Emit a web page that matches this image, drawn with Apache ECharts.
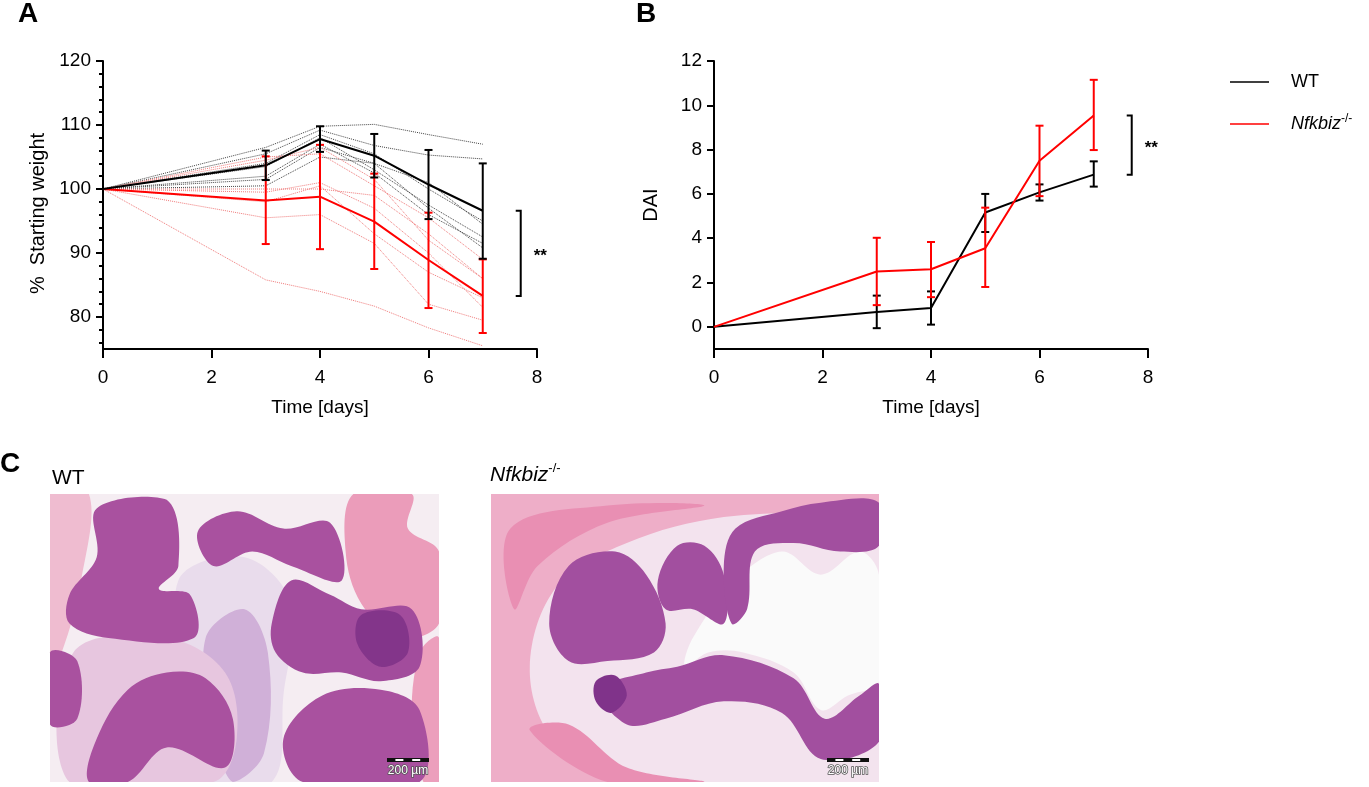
<!DOCTYPE html>
<html>
<head>
<meta charset="utf-8">
<script src="https://cdn.jsdelivr.net/npm/echarts@6/dist/echarts.min.js"></script>
<style>
  html, body { margin: 0; padding: 0; background: #fff; }
  #main { width: 1369px; height: 787px; }
</style>
</head>
<body>
<div id="main"></div>
<script>
// ---- data ----
var days = [0, 3, 4, 5, 6, 7];

// panel A: % starting weight, group means with error limits
var wtWeight   = [100, 103.7, 107.8, 105.2, 100.7, 96.6];
var wtWeightLo = [null, 101.4, 105.8, 101.8, 95.3, 89.1];
var wtWeightHi = [null, 106.0, 109.8, 108.6, 106.1, 104.0];
var koWeight   = [100, 98.2, 98.8, 94.9, 88.9, 83.3];
var koWeightLo = [null, 91.4, 90.6, 87.5, 81.4, 77.5];
var koWeightHi = [null, 105.1, 106.9, 102.4, 96.3, 89.0];

// panel A: single animals (dotted)
var wtMice = [
    [100, 106.5, 109.8, 110.1, 108.5, 107.0],
    [100, 105.5, 109.2, 106.8, 105.3, 104.7],
    [100, 104.0, 108.5, 105.5, 100.0, 95.0],
    [100, 103.5, 108.0, 103.0, 97.5, 92.5],
    [100, 102.0, 107.0, 102.5, 96.0, 91.5],
    [100, 101.5, 106.5, 104.0, 97.0, 90.8],
    [100, 100.5, 105.0, 104.0, 101.0, 94.5]
];
var koMice = [
    [100, 85.8, 84.0, 81.7, 78.3, 75.5],
    [100, 95.5, 96.0, 91.5, 82.0, 79.5],
    [100, 99.5, 101.0, 97.0, 90.0, 81.5],
    [100, 100.0, 100.0, 99.0, 93.0, 86.0],
    [100, 98.0, 100.5, 93.0, 87.0, 83.0],
    [100, 104.5, 106.5, 101.5, 92.0, 86.0],
    [100, 105.0, 105.5, 100.5, 95.5, 89.0]
];

// panel B: DAI
var wtDai   = [0, 0.67, 0.85, 5.16, 6.07, 6.87];
var wtDaiLo = [null, -0.06, 0.1, 4.28, 5.7, 6.33];
var wtDaiHi = [null, 1.41, 1.6, 6.0, 6.43, 7.47];
var koDai   = [0, 2.5, 2.6, 3.55, 7.5, 9.54];
var koDaiLo = [null, 0.98, 1.34, 1.8, 5.9, 7.98];
var koDaiHi = [null, 4.02, 3.83, 5.38, 9.08, 11.15];

// ticks
var xTicks = [0, 2, 4, 6, 8];
var yTicksA = [80, 90, 100, 110, 120];
var yMinorA = [76, 78, 82, 84, 86, 88, 92, 94, 96, 98, 102, 104, 106, 108, 112, 114, 116, 118];
var yTicksB = [0, 2, 4, 6, 8, 10, 12];

var FONT = 'Liberation Sans, Arial, sans-serif';
var RED = '#ff0000';

// ---- helpers ----
function pairs(ys) {
    return days.map(function(d, i) { return [d, ys[i]]; });
}

function errData(lo, hi) {
    var out = [];
    days.forEach(function(d, i) {
        if (lo[i] != null) out.push([d, lo[i], hi[i]]);
    });
    return out;
}

function errSeries(xi, yi, lo, hi, color) {
    return {
        type: 'custom',
        xAxisIndex: xi,
        yAxisIndex: yi,
        z: 5,
        data: errData(lo, hi),
        renderItem: function(params, api) {
            var a = api.coord([api.value(0), api.value(1)]);
            var b = api.coord([api.value(0), api.value(2)]);
            var st = { stroke: color, lineWidth: 2 };
            return {
                type: 'group',
                children: [
                    { type: 'line', shape: { x1: a[0], y1: a[1], x2: b[0], y2: b[1] }, style: st },
                    { type: 'line', shape: { x1: a[0] - 4, y1: a[1], x2: a[0] + 4, y2: a[1] }, style: st },
                    { type: 'line', shape: { x1: b[0] - 4, y1: b[1], x2: b[0] + 4, y2: b[1] }, style: st }
                ]
            };
        }
    };
}

function meanSeries(name, xi, yi, ys, color) {
    return {
        name: name,
        type: 'line',
        xAxisIndex: xi,
        yAxisIndex: yi,
        data: pairs(ys),
        symbol: 'none',
        z: 4,
        lineStyle: { color: color, width: 2 }
    };
}

function dotSeries(xi, yi, ys, color) {
    return {
        type: 'line',
        xAxisIndex: xi,
        yAxisIndex: yi,
        data: pairs(ys),
        symbol: 'none',
        silent: true,
        z: 2,
        lineStyle: { color: color, width: 1, type: 'dotted' }
    };
}

// significance bracket between the two day-7 means
function bracketSeries(xi, yi, top, bottom) {
    return {
        type: 'custom',
        xAxisIndex: xi,
        yAxisIndex: yi,
        data: [[7.7, top, bottom]],
        renderItem: function(params, api) {
            var a = api.coord([api.value(0), api.value(1)]);
            var b = api.coord([api.value(0), api.value(2)]);
            var st = { stroke: '#000', lineWidth: 2, fill: null };
            return {
                type: 'group',
                children: [
                    { type: 'polyline', shape: { points: [[a[0] - 5, a[1]], a, b, [b[0] - 5, b[1]]] }, style: st },
                    { type: 'text', x: a[0] + 13, y: (a[1] + b[1]) / 2 + 3,
                      style: { text: '**', font: 'bold 17px ' + FONT, fill: '#000', verticalAlign: 'middle' } }
                ]
            };
        }
    };
}

var axisLine = { onZero: false, lineStyle: { color: '#000', width: 2 } };
var yLabel = { color: '#000', fontSize: 19, fontFamily: FONT, margin: 12 };
var xLabel = { color: '#000', fontSize: 19, fontFamily: FONT, margin: 19 };

function xAxis(gi) {
    return {
        type: 'value', gridIndex: gi, min: 0, max: 8,
        name: 'Time [days]', nameLocation: 'middle', nameGap: 49,
        nameTextStyle: { color: '#000', fontSize: 19, fontFamily: FONT },
        axisLine: axisLine,
        axisTick: { customValues: xTicks, length: 9, lineStyle: { color: '#000', width: 2 } },
        axisLabel: Object.assign({ customValues: xTicks }, xLabel),
        splitLine: { show: false }
    };
}

// ---- histology panels (decorative approximation of the photos) ----
var slideWT = {
    box: [50, 494, 389, 288], bg: '#f5edf2',
    shapes: [
        ['#efbcd0', [[0, 0], [0.1, 0], [0.08, 0.3], [0.03, 0.55], [0, 0.6]]],
        ['#eb9cba', [[0.78, 0], [0.93, 0], [0.92, 0.12], [1, 0.2], [1, 0.45], [0.9, 0.5], [0.8, 0.38], [0.76, 0.2]]],
        ['#ec9fbc', [[0.95, 0.55], [1, 0.5], [1, 1], [0.96, 1], [0.93, 0.8]]],
        ['#e9dcec', [[0.33, 0.3], [0.5, 0.22], [0.62, 0.38], [0.6, 0.7], [0.57, 1], [0.38, 1], [0.36, 0.7]]],
        ['#d0b0d8', [[0.4, 0.5], [0.5, 0.4], [0.56, 0.55], [0.55, 0.9], [0.47, 1], [0.42, 0.8]]],
        ['#e7c6df', [[0.06, 0.55], [0.3, 0.5], [0.45, 0.62], [0.48, 0.85], [0.42, 1], [0.05, 1]]],
        ['#a9519f', [[0.05, 0.35], [0.12, 0.22], [0.12, 0.05], [0.3, 0.02], [0.33, 0.25], [0.28, 0.33], [0.36, 0.35], [0.37, 0.5], [0.15, 0.5], [0.05, 0.45]]],
        ['#a9519f', [[0.38, 0.13], [0.48, 0.06], [0.6, 0.12], [0.72, 0.1], [0.75, 0.3], [0.62, 0.25], [0.52, 0.2], [0.42, 0.25]]],
        ['#a24c9c', [[0.57, 0.45], [0.62, 0.3], [0.72, 0.35], [0.8, 0.4], [0.93, 0.4], [0.95, 0.6], [0.85, 0.65], [0.75, 0.62], [0.65, 0.62], [0.58, 0.55]]],
        ['#a9519f', [[0.6, 0.85], [0.7, 0.7], [0.85, 0.68], [0.95, 0.75], [0.95, 1], [0.65, 1]]],
        ['#a9519f', [[0.2, 0.68], [0.3, 0.62], [0.4, 0.64], [0.47, 0.78], [0.45, 0.95], [0.3, 0.88], [0.2, 1], [0.1, 1], [0.12, 0.85]]],
        ['#a9519f', [[0, 0.55], [0.07, 0.58], [0.07, 0.78], [0, 0.8]]],
        ['#83358a', [[0.8, 0.42], [0.9, 0.42], [0.92, 0.55], [0.85, 0.6], [0.79, 0.52]]]
    ]
};
var slideKO = {
    box: [491, 494, 388, 288], bg: '#f3e3ee',
    shapes: [
        ['#eeaec8', [[0, 0], [1, 0], [1, 0.05], [0.6, 0.08], [0.35, 0.17], [0.17, 0.32], [0.1, 0.6], [0.16, 0.85], [0.35, 1], [0, 1]]],
        ['#e98fb3', [[0.05, 0.12], [0.3, 0.04], [0.55, 0.04], [0.3, 0.1], [0.12, 0.25], [0.06, 0.4]]],
        ['#e98fb3', [[0.1, 0.82], [0.2, 0.8], [0.35, 0.95], [0.55, 1], [0.3, 1]]],
        ['#fafafa', [[0.63, 0.3], [0.75, 0.2], [0.85, 0.28], [0.95, 0.2], [1, 0.28], [1, 0.65], [0.92, 0.7], [0.85, 0.75], [0.78, 0.62], [0.65, 0.55], [0.56, 0.55], [0.5, 0.6], [0.52, 0.5]]],
        ['#a24f9f', [[0.15, 0.45], [0.2, 0.25], [0.32, 0.2], [0.4, 0.28], [0.45, 0.45], [0.42, 0.55], [0.3, 0.58], [0.2, 0.58]]],
        ['#a24f9f', [[0.43, 0.3], [0.48, 0.18], [0.55, 0.18], [0.6, 0.28], [0.6, 0.45], [0.52, 0.4], [0.45, 0.4]]],
        ['#a24f9f', [[0.6, 0.25], [0.63, 0.12], [0.75, 0.06], [0.85, 0.03], [1, 0.03], [1, 0.18], [0.9, 0.2], [0.78, 0.17], [0.68, 0.2], [0.66, 0.4], [0.62, 0.45]]],
        ['#a24f9f', [[0.28, 0.68], [0.4, 0.62], [0.48, 0.6], [0.6, 0.56], [0.78, 0.64], [0.86, 0.78], [0.95, 0.7], [1, 0.66], [1, 0.86], [0.85, 0.92], [0.75, 0.76], [0.6, 0.72], [0.45, 0.78], [0.35, 0.8]]],
        ['#80338a', [[0.27, 0.65], [0.32, 0.63], [0.35, 0.7], [0.31, 0.76], [0.27, 0.72]]]
    ]
};

function slideGraphics(s, label, barText) {
    var b = s.box;
    var out = [{ type: 'rect', shape: { x: b[0], y: b[1], width: b[2], height: b[3] }, style: { fill: s.bg } }];
    s.shapes.forEach(function(sh) {
        out.push({
            type: 'polygon',
            shape: {
                smooth: 0.35,
                smoothConstraint: [[b[0], b[1]], [b[0] + b[2], b[1] + b[3]]],
                points: sh[1].map(function(p) { return [b[0] + p[0] * b[2], b[1] + p[1] * b[3]]; })
            },
            style: { fill: sh[0] }
        });
    });
    var bx = b[0] + b[2] - 52, by = b[1] + b[3] - 22;
    out.push({ type: 'rect', shape: { x: bx, y: by - 2, width: 42, height: 4 }, style: { fill: '#111' } });
    [0.2, 0.6].forEach(function(f) {
        out.push({ type: 'rect', shape: { x: bx + 42 * f, y: by - 1, width: 8, height: 2 }, style: { fill: '#fff' } });
    });
    out.push({ type: 'text', x: bx + 21, y: by + 11,
        style: { text: barText, font: '12px ' + FONT, fill: '#fff', stroke: '#555', lineWidth: 1.5, align: 'center', verticalAlign: 'middle' } });
    out.push(label);
    return out;
}

var koRich = {
    i: { fontStyle: 'italic', fontSize: 21, fontFamily: FONT, color: '#000', lineHeight: 26 },
    s: { fontSize: 13, fontFamily: FONT, color: '#000', verticalAlign: 'top', lineHeight: 13 }
};
var koRichSmall = {
    i: { fontStyle: 'italic', fontSize: 18, fontFamily: FONT, color: '#000', lineHeight: 22 },
    s: { fontSize: 12, fontFamily: FONT, color: '#000', verticalAlign: 'top', lineHeight: 12 }
};

var letter = 'bold 28px ' + FONT;
var graphics = [
    { type: 'text', x: 18, y: 14, style: { text: 'A', font: letter, fill: '#000', verticalAlign: 'middle' } },
    { type: 'text', x: 636, y: 14, style: { text: 'B', font: letter, fill: '#000', verticalAlign: 'middle' } },
    { type: 'text', x: 0, y: 464, style: { text: 'C', font: letter, fill: '#000', verticalAlign: 'middle' } },
    // legend
    { type: 'line', shape: { x1: 1230, y1: 82, x2: 1269, y2: 82 }, style: { stroke: '#000', lineWidth: 1.6 } },
    { type: 'text', x: 1291, y: 82, style: { text: 'WT', font: '18px ' + FONT, fill: '#000', verticalAlign: 'middle' } },
    { type: 'line', shape: { x1: 1230, y1: 124, x2: 1269, y2: 124 }, style: { stroke: RED, lineWidth: 1.6 } },
    { type: 'text', x: 1291, y: 124, style: { text: '{i|Nfkbiz}{s|-/-}', rich: koRichSmall, verticalAlign: 'middle' } }
];
graphics = graphics.concat(
    slideGraphics(slideWT, { type: 'text', x: 52, y: 478, style: { text: 'WT', font: '21px ' + FONT, fill: '#000', verticalAlign: 'middle' } }, '200 µm'),
    slideGraphics(slideKO, { type: 'text', x: 490, y: 475, style: { text: '{i|Nfkbiz}{s|-/-}', rich: koRich, verticalAlign: 'middle' } }, '200 µm')
);

// ---- chart ----
var series = [];
wtMice.forEach(function(m) { series.push(dotSeries(0, 0, m, '#444')); });
koMice.forEach(function(m) { series.push(dotSeries(0, 0, m, '#f07a7a')); });
series.push(meanSeries('Nfkbiz', 0, 0, koWeight, RED));
series.push(errSeries(0, 0, koWeightLo, koWeightHi, RED));
series.push(meanSeries('WT', 0, 0, wtWeight, '#000'));
series.push(errSeries(0, 0, wtWeightLo, wtWeightHi, '#000'));
series.push(bracketSeries(0, 0, wtWeight[5], koWeight[5]));

series.push(meanSeries('WT', 1, 2, wtDai, '#000'));
series.push(errSeries(1, 2, wtDaiLo, wtDaiHi, '#000'));
series.push(meanSeries('Nfkbiz', 1, 2, koDai, RED));
series.push(errSeries(1, 2, koDaiLo, koDaiHi, RED));
series.push(bracketSeries(1, 2, koDai[5], wtDai[5]));

var myChart = echarts.init(document.getElementById('main'));
var option = {
    animation: false,
    backgroundColor: '#fff',
    textStyle: { fontFamily: FONT },
    grid: [
        { left: 103, top: 61, width: 434, height: 288 },
        { left: 714, top: 61, width: 434, height: 288 }
    ],
    xAxis: [xAxis(0), xAxis(1)],
    yAxis: [{
        type: 'value', gridIndex: 0, position: 'left', min: 75, max: 120,
        name: '%  Starting weight', nameLocation: 'middle', nameGap: 55,
        nameTextStyle: { color: '#000', fontSize: 20, fontFamily: FONT, padding: [0, 17, 0, 0] },
        axisLine: axisLine,
        axisTick: { customValues: yTicksA, length: 7, lineStyle: { color: '#000', width: 2 } },
        axisLabel: Object.assign({ customValues: yTicksA }, yLabel),
        splitLine: { show: false }
    }, {
        // minor ticks of panel A
        type: 'value', gridIndex: 0, position: 'left', min: 75, max: 120,
        axisLine: { show: false },
        axisTick: { customValues: yMinorA, length: 4, lineStyle: { color: '#000', width: 2 } },
        axisLabel: { show: false },
        splitLine: { show: false }
    }, {
        type: 'value', gridIndex: 1, position: 'left', min: -1, max: 12,
        name: 'DAI', nameLocation: 'middle', nameGap: 53,
        nameTextStyle: { color: '#000', fontSize: 20, fontFamily: FONT },
        axisLine: axisLine,
        axisTick: { customValues: yTicksB, length: 7, lineStyle: { color: '#000', width: 2 } },
        axisLabel: Object.assign({ customValues: yTicksB }, yLabel),
        splitLine: { show: false }
    }],
    series: series,
    graphic: graphics
};
myChart.setOption(option);
</script>
</body>
</html>
